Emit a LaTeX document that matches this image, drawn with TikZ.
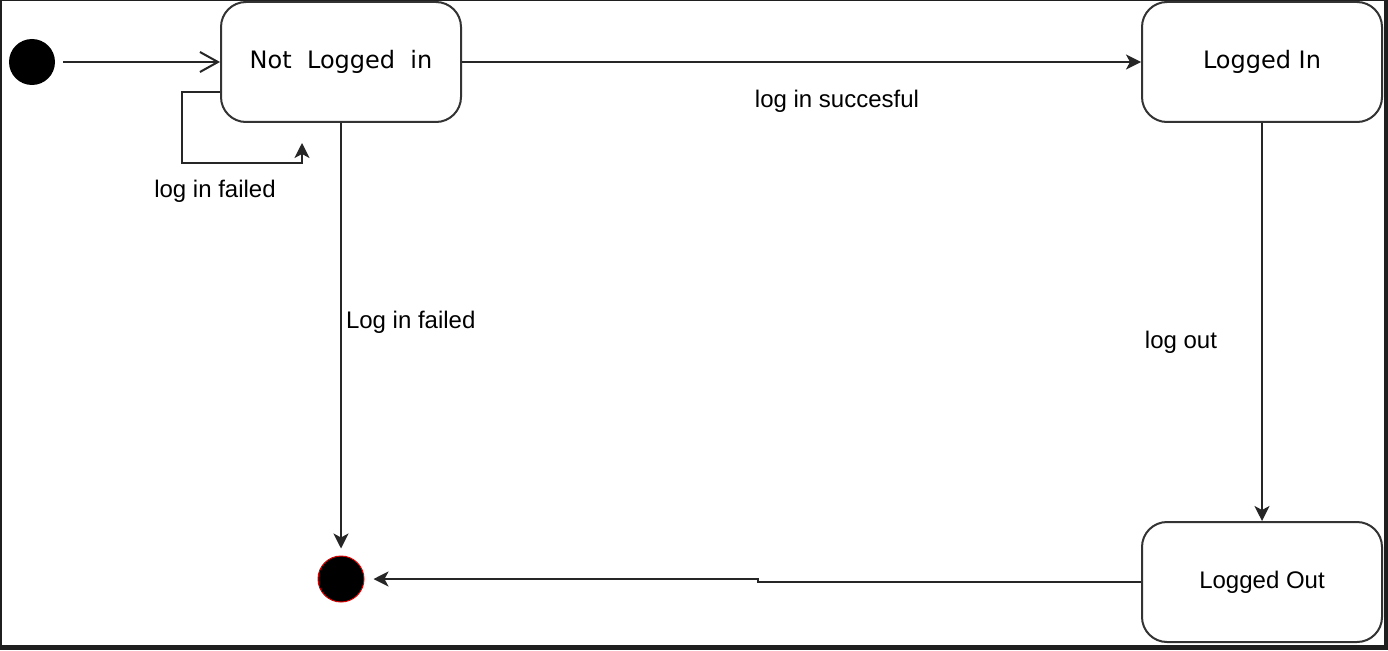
\documentclass[tikz,border=0pt]{standalone}
\usepackage{fontspec}
\setmainfont{Liberation Sans}
\newfontfamily\dejavu{DejaVu Sans}
\usetikzlibrary{arrows.meta}

\begin{document}
\begin{tikzpicture}[x=1pt,y=-1pt,line width=2pt,font=\fontsize{24}{28}\selectfont]
    \tikzstyle{state}=[draw=black!80,rounded corners=25pt,minimum width=240pt,minimum height=120pt,inner sep=0pt]
    \tikzstyle{start}=[circle,fill=black,minimum size=46pt,inner sep=0pt]
    \tikzstyle{final}=[start,draw=red!85!black,line width=1pt]
    \tikzstyle{trans}=[draw=black!85,-{Stealth[length=15pt,width=15pt,inset=4pt]}]
    \tikzstyle{annot}=[inner sep=0pt]

    \useasboundingbox (0,0) rectangle (1388,650);
    % dark frame round the canvas
    \fill[black!88] (0,0) rectangle (1388,650);
    \fill[white] (1.5,1.5) rectangle (1384,645);

    % Draw the states
    \node[start] (S) at (32,62) {};
    \node[state] (NL) at (341,62) {\dejavu Not\ \ Logged\ \ in};
    \node[state] (LI) at (1262,62) {\dejavu Logged In};
    \node[state] (LO) at (1262,582) {Logged Out};
    \node[final] (F) at (341,579) {};
    \coordinate (loop-1) at (182,163);
    \coordinate (loop-2) at (302,143);
    \coordinate (jog) at (758,579);

    % Transitions
    \draw[draw=black!85,shorten <=7pt,-{Straight Barb[length=18pt,width=20pt]}] (S) -- (NL);
    \draw[trans] ([yshift=-30pt]NL.west) -| (loop-1) -| (loop-2);
    \draw[trans] (NL) -- (LI);
    \draw[trans,shorten >=7pt] (NL) -- (F);
    \draw[trans] (LI) -- (LO);
    \draw[trans,shorten >=9pt] (LO.west) -| (jog) -- (F);

    % Annotate the transitions
    \node[annot] (L-1) at (215,191) {log in failed};
    \node[annot] (L-2) at (837,101) {log in succesful};
    \node[annot,anchor=west] (L-3) at (345,322) {Log in failed};
    \node[annot] (L-4) at (1181,342) {log out};
\end{tikzpicture}
\end{document}
